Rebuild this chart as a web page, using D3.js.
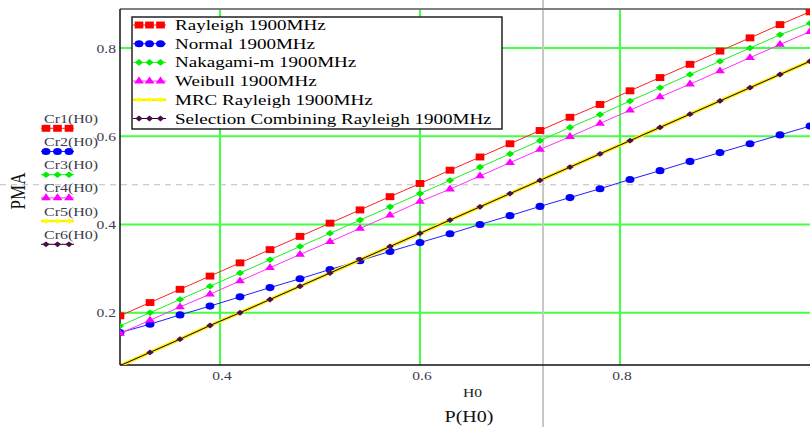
<!DOCTYPE html>
<html>
<head>
<meta charset="utf-8">
<script src="https://cdn.jsdelivr.net/npm/d3@7"></script>
<style>
  body { margin: 0; background: #fff; }
  text { font-family: "Liberation Serif", "Times New Roman", serif; }
</style>
</head>
<body>
<svg id="chart"></svg>
<script>
// values
var pH0 = [0.30, 0.33, 0.36, 0.39, 0.42, 0.45, 0.48, 0.51, 0.54, 0.57, 0.60, 0.63,
           0.66, 0.69, 0.72, 0.75, 0.78, 0.81, 0.84, 0.87, 0.90, 0.93, 0.96, 0.99]
var rayleigh = [0.193, 0.223, 0.253, 0.283, 0.313, 0.343, 0.373, 0.403, 0.433, 0.463, 0.493, 0.523,
                0.553, 0.583, 0.613, 0.643, 0.672, 0.703, 0.733, 0.763, 0.793, 0.823, 0.853, 0.882]
var normal = [0.155, 0.174, 0.195, 0.215, 0.236, 0.257, 0.277, 0.298, 0.318, 0.339, 0.359, 0.379,
              0.400, 0.420, 0.441, 0.461, 0.481, 0.502, 0.522, 0.543, 0.563, 0.583, 0.603, 0.623]
var nakagami = [0.170, 0.200, 0.230, 0.260, 0.290, 0.320, 0.350, 0.380, 0.410, 0.440, 0.470, 0.500,
                0.530, 0.560, 0.590, 0.620, 0.649, 0.680, 0.710, 0.740, 0.770, 0.800, 0.830, 0.856]
var weibull = [0.153, 0.183, 0.213, 0.242, 0.272, 0.302, 0.332, 0.361, 0.391, 0.421, 0.452, 0.480,
               0.510, 0.540, 0.570, 0.599, 0.629, 0.659, 0.689, 0.718, 0.748, 0.778, 0.808, 0.837]
var mrcRayleigh = [0.080, 0.110, 0.140, 0.171, 0.200, 0.230, 0.260, 0.290, 0.320, 0.350, 0.380, 0.410,
                   0.440, 0.470, 0.500, 0.530, 0.560, 0.590, 0.620, 0.650, 0.680, 0.710, 0.740, 0.770]
var scRayleigh = [0.080, 0.110, 0.140, 0.171, 0.200, 0.230, 0.260, 0.290, 0.320, 0.350, 0.380, 0.410,
                  0.440, 0.470, 0.500, 0.530, 0.560, 0.590, 0.620, 0.650, 0.680, 0.710, 0.740, 0.770]

var seriesNames = ["Rayleigh 1900MHz", "Normal 1900MHz", "Nakagami-m 1900MHz", "Weibull 1900MHz",
                   "MRC Rayleigh 1900MHz", "Selection Combining Rayleigh 1900MHz"]
var traceNames = ["Cr1(H0)", "Cr2(H0)", "Cr3(H0)", "Cr4(H0)", "Cr5(H0)", "Cr6(H0)"]
var xTicks = [0.4, 0.6, 0.8]
var yTicks = [0.2, 0.4, 0.6, 0.8]
var xDomain = [0.3, 1.0]
var yDomain = [0.0815, 0.8884]
// mathcad trace cursor
var cursorX = 0.723
var cursorY = 0.49

var width = 810, height = 427
var margin = {top: 9, left: 120, bottom: 62, right: -10}

var svg = d3.select("#chart")
  .attr("width", width)
  .attr("height", height)

var x = d3.scaleLinear().domain(xDomain).range([margin.left, width - margin.right])
var y = d3.scaleLinear().domain(yDomain).range([height - margin.bottom, margin.top])

var rhombus = {
  draw: function(ctx, size) {
    var r = Math.sqrt(size) / 2
    ctx.moveTo(0, -r); ctx.lineTo(r, 0); ctx.lineTo(0, r); ctx.lineTo(-r, 0); ctx.closePath()
  }
}

var series = [
  {values: rayleigh,    color: "#ff0000", line: "#ff2020", lw: 1,   sym: d3.symbolSquare,   size: 48},
  {values: normal,      color: "#0000ff", line: "#2020ff", lw: 1,   sym: d3.symbolCircle,   size: 40},
  {values: nakagami,    color: "#00ee00", line: "#20ee20", lw: 1,   sym: rhombus,           size: 44},
  {values: weibull,     color: "#ff00ff", line: "#ff30ff", lw: 1,   sym: d3.symbolTriangle, size: 27},
  {values: mrcRayleigh, color: "#ffff00", line: "#ffee00", lw: 3.5, sym: rhombus,           size: 26},
  {values: scRayleigh,  color: "#4a0c4a", line: "#1a001a", lw: 1,   sym: rhombus,           size: 34}
]

var stretch = 1.25

function label(g, px, py, str, size, anchor, sx, fill) {
  return g.append("text")
    .attr("transform", "translate(" + px + "," + py + ") scale(" + sx + ",1)")
    .attr("text-anchor", anchor)
    .attr("font-size", size)
    .attr("fill", fill)
    .text(str)
}

// grid
var grid = svg.append("g")
grid.selectAll(".gx").data(xTicks).enter().append("line")
  .attr("x1", function(d) { return x(d) }).attr("x2", function(d) { return x(d) })
  .attr("y1", y.range()[1]).attr("y2", y.range()[0])
  .attr("stroke", "#44ff44").attr("stroke-width", 2)
grid.selectAll(".gy").data(yTicks).enter().append("line")
  .attr("x1", margin.left).attr("x2", width)
  .attr("y1", function(d) { return y(d) }).attr("y2", function(d) { return y(d) })
  .attr("stroke", "#44ff44").attr("stroke-width", 2)

// cursor lines
svg.append("line")
  .attr("x1", x(cursorX)).attr("x2", x(cursorX)).attr("y1", 0).attr("y2", height)
  .attr("stroke", "#c8c8c8").attr("stroke-width", 2)
svg.append("line")
  .attr("x1", 0).attr("x2", width).attr("y1", y(cursorY)).attr("y2", y(cursorY))
  .attr("stroke", "#bdbdbd").attr("stroke-width", 1.2).attr("stroke-dasharray", "6,5")

// frame
svg.append("line").attr("x1", margin.left).attr("x2", width)
  .attr("y1", y.range()[1]).attr("y2", y.range()[1])
  .attr("stroke", "#808080").attr("stroke-width", 2)
svg.append("line").attr("x1", margin.left).attr("x2", margin.left)
  .attr("y1", y.range()[1]).attr("y2", y.range()[0])
  .attr("stroke", "#111").attr("stroke-width", 1.5)
svg.append("line").attr("x1", margin.left).attr("x2", width)
  .attr("y1", y.range()[0]).attr("y2", y.range()[0])
  .attr("stroke", "#111").attr("stroke-width", 1.5)

// series
svg.append("clipPath").attr("id", "plotclip").append("rect")
  .attr("x", margin.left).attr("y", margin.top)
  .attr("width", width - margin.left + 20).attr("height", y.range()[0] - margin.top)

var plot = svg.append("g").attr("clip-path", "url(#plotclip)")
var lineGen = d3.line()
  .x(function(d) { return x(d[0]) })
  .y(function(d) { return y(d[1]) })

series.forEach(function(s) {
  var pts = d3.zip(pH0, s.values)
  plot.append("path")
    .datum(pts)
    .attr("fill", "none")
    .attr("stroke", s.line)
    .attr("stroke-width", s.lw)
    .attr("d", lineGen)
  plot.selectAll(null).data(pts).enter().append("path")
    .attr("transform", function(d) { return "translate(" + x(d[0]) + "," + y(d[1]) + ") scale(" + stretch + ",1)" })
    .attr("d", d3.symbol().type(s.sym).size(s.size))
    .attr("fill", s.color)
})

// tick labels
yTicks.forEach(function(t) {
  label(svg, 116, y(t) + 4.5, d3.format(".1f")(t), 13.5, "end", 1.15, "#3c3c50")
})
xTicks.forEach(function(t) {
  label(svg, x(t) + 2, 379.5, d3.format(".1f")(t), 13.5, "middle", 1.15, "#3c3c50")
})

// axis titles
label(svg, 472.5, 397, "H0", 12, "middle", 1.3, "#222")
label(svg, 469, 422, "P(H0)", 17, "middle", 1.18, "#111")
svg.append("text")
  .attr("transform", "translate(25,191) scale(1.27,1) rotate(-90)")
  .attr("text-anchor", "middle")
  .attr("font-size", 17)
  .attr("fill", "#111")
  .text("PMA")

// sample of a series: short line with three markers
function sample(g, s, x0, x1, cy, xs) {
  g.append("line").attr("x1", x0).attr("x2", x1).attr("y1", cy).attr("y2", cy)
    .attr("stroke", s.line).attr("stroke-width", Math.min(s.lw, 2.5))
  xs.forEach(function(mx) {
    g.append("path")
      .attr("transform", "translate(" + mx + "," + cy + ") scale(" + stretch + ",1)")
      .attr("d", d3.symbol().type(s.sym).size(s.size))
      .attr("fill", s.color)
  })
}

// trace names on the left
var traces = svg.append("g")
traceNames.forEach(function(n, i) {
  var my = 128.3 + i * 23.2
  label(traces, 44, my - 5.6, n, 13, "start", 1.23, "#3c3c50")
  sample(traces, series[i], 41, 74, my, [46, 57.5, 69])
})

// legend
var legend = svg.append("g")
legend.append("rect")
  .attr("x", 132).attr("y", 17).attr("width", 370).attr("height", 112)
  .attr("fill", "#fff").attr("stroke", "#222").attr("stroke-width", 1.5)
seriesNames.forEach(function(n, i) {
  var ly = 25 + i * 18.7
  sample(legend, series[i], 133, 166, ly, [139, 149.5, 160.5])
  label(legend, 175, ly + 5, n, 15, "start", 1.27, "#000")
})
</script>
</body>
</html>
